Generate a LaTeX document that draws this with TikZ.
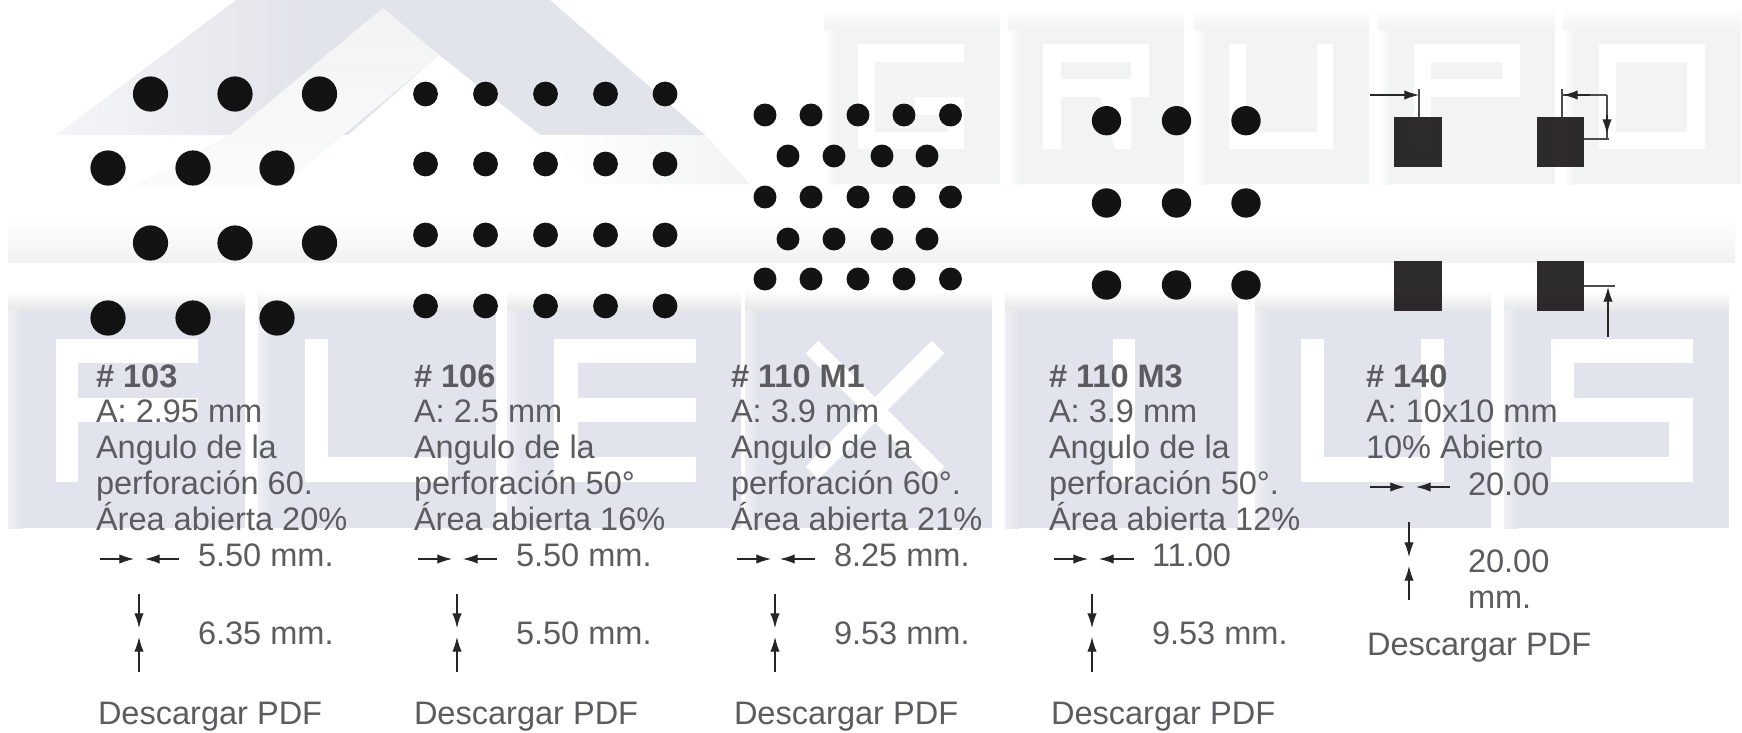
\documentclass[tikz,border=0pt]{standalone}
\usepackage{fontspec}
\setmainfont{Liberation Sans}
\usetikzlibrary{arrows.meta}
\definecolor{logoblue}{HTML}{E2E4EB}
\definecolor{blockblue}{HTML}{E1E4EC}
\definecolor{blockpale}{HTML}{F2F3F3}
\definecolor{ink}{HTML}{5A5C60}
\definecolor{dotink}{HTML}{0C0C0C}
\definecolor{squareink}{HTML}{1F1B1C}
\tikzset{
  x=.75pt, y=-.75pt,
  lbl/.style={anchor=base west, inner sep=0pt, outer sep=0pt, text=ink, font=\fontsize{24.4}{24.4}\selectfont},
  lblb/.style={lbl, font=\fontsize{24.4}{24.4}\selectfont\bfseries},
  dimline/.style={draw=black!85, line width=.9pt, -{Latex[length=11pt,width=7pt]}},
  thinline/.style={draw=black!70, line width=.9pt},
  holefill/.style={fill=dotink, opacity=.97},
  squarefill/.style={fill=squareink, opacity=.93},
  white letter/.style={fill=white}
}
% bottom block: x1 x2
\newcommand\lowblock[2]{%
  \fill[blockblue] (#1,310) rectangle (#2,528);
  \shade[top color=white!80!blockpale, bottom color=blockpale!95!black] (#1,292) rectangle (#2,310);
  \shade[left color=blockblue!55!white, right color=blockblue] (#1,310) rectangle ({#1+14},528);
}
% top block: x1 x2
\newcommand\highblock[2]{%
  \fill[blockpale] (#1,30) rectangle (#2,184);
  \shade[top color=white, bottom color=blockpale] (#1,8) rectangle (#2,30);
  \shade[left color=white, right color=blockpale] (#1,30) rectangle ({#1+12},184);
}
\newcommand\wbar[4]{\fill[white letter] (#1,#2) rectangle (#3,#4);}
\newcommand\gbar[4]{\fill[blockpale] (#1,#2) rectangle (#3,#4);}
\newcommand\dimarrow[3]{\coordinate (#1s) at #2; \coordinate (#1e) at #3; \draw[dimline] (#1s) -- (#1e);}
\newcommand\dimrule[3]{\coordinate (#1s) at #2; \coordinate (#1e) at #3; \draw[thinline] (#1s) -- (#1e);}
\begin{document}
\begin{tikzpicture}
\useasboundingbox (0,0) rectangle (1742,732);
\fill[white] (0,0) rectangle (1742,732);

% ---------- watermark: logo roof
\shade[left color=logoblue!35!white, right color=logoblue]
  (56,135) -- (236,0) -- (300,0) -- (300,135) -- cycle;
\fill[logoblue] (299,0) -- (550,0) -- (705,135) -- (299,135) -- cycle;
\shade[top color=blockpale, bottom color=white!60!blockpale]
  (383,8) -- (439,55) -- (283,185) -- (133,185) -- (230,135) -- cycle;
\fill[white] (439,55) -- (540,135) -- (589,183) -- (294,183) -- cycle;
\shade[left color=white, right color=blockpale]
  (540,135) -- (705,135) -- (750,184) -- (589,184) -- cycle;

% ---------- watermark: light strip
\shade[top color=white, bottom color=black!5.5] (8,220) rectangle (1735,262);

% ---------- watermark: GRUPO
\highblock{824}{1000}
\highblock{1008}{1184}
\highblock{1194}{1369}
\highblock{1378}{1555}
\highblock{1563}{1741}
% G
\wbar{858}{44}{964}{62}\wbar{858}{44}{875}{149}\wbar{858}{132}{964}{149}\wbar{948}{97}{964}{149}\wbar{915}{97}{964}{115}
% R
\wbar{1043}{44}{1149}{62}\wbar{1043}{44}{1061}{149}\wbar{1131}{44}{1149}{97}\wbar{1043}{79}{1149}{97}
\fill[white letter] (1100,97) -- (1131,97) -- (1131,149) -- (1115,149) -- cycle;
% U
\wbar{1229}{44}{1246}{149}\wbar{1317}{44}{1333}{149}\wbar{1229}{132}{1333}{149}
% P
\wbar{1414}{44}{1520}{62}\wbar{1414}{44}{1431}{149}\wbar{1502}{44}{1520}{97}\wbar{1414}{79}{1520}{97}
% O
\wbar{1599}{44}{1705}{149}\gbar{1616}{62}{1687}{132}

% ---------- watermark: FLEXIUS
\lowblock{8}{245}
\lowblock{258}{496}
\lowblock{507}{741}
\lowblock{745}{992}
\lowblock{1005}{1238}
\lowblock{1255}{1491}
\lowblock{1504}{1729}
% F
\wbar{56}{339}{198}{363}\wbar{56}{339}{78}{482}\wbar{56}{398}{198}{422}
% L
\wbar{305}{339}{328}{482}\wbar{305}{457}{448}{482}
% E
\wbar{554}{339}{578}{482}\wbar{554}{339}{696}{363}\wbar{554}{398}{696}{422}\wbar{554}{457}{696}{482}
% X
\draw[white, line width=13.5pt] (812,347) -- (938,473);
\draw[white, line width=13.5pt] (938,347) -- (812,473);
% I
\wbar{1113}{339}{1135}{482}
% U
\wbar{1301}{339}{1324}{482}\wbar{1421}{339}{1444}{482}\wbar{1301}{457}{1444}{482}
% S
\wbar{1551}{339}{1693}{363}\wbar{1551}{339}{1574}{422}\wbar{1551}{398}{1693}{422}\wbar{1669}{398}{1693}{482}\wbar{1551}{457}{1693}{482}

% ---------- hole patterns
% 103
\foreach \y in {94,243} \foreach \x in {150.5,235,319.5} \fill[holefill] (\x,\y) circle[radius=13.2pt];
\foreach \y in {168,318} \foreach \x in {108,193,277} \fill[holefill] (\x,\y) circle[radius=13.2pt];
% 106
\foreach \y in {94,164,235,306} \foreach \x in {425.5,485.5,545.5,605.5,665} \fill[holefill] (\x,\y) circle[radius=9.3pt];
% 110 M1
\foreach \y in {115,197,279} \foreach \x in {765,811,858,904,950.5} \fill[holefill] (\x,\y) circle[radius=8.6pt];
\foreach \y in {156,239} \foreach \x in {788,834,882,927} \fill[holefill] (\x,\y) circle[radius=8.6pt];
% 110 M3
\foreach \y in {120.7,203,285} \foreach \x in {1106.5,1176.5,1246} \fill[holefill] (\x,\y) circle[radius=11pt];
% 140
\fill[squarefill] (1394,117) rectangle (1442,167);
\fill[squarefill] (1537,117) rectangle (1584,167);
\fill[squarefill] (1394,261) rectangle (1442,311);
\fill[squarefill] (1537,261) rectangle (1584,311);

% pitch marks of 140
\dimrule{pa}{(1419,89)}{(1419,117)}
\dimarrow{pb}{(1370,95)}{(1419,95)}
\dimrule{pc}{(1562,89)}{(1562,117)}
\dimrule{pd}{(1562,95)}{(1607,95)}
\dimarrow{pe}{(1590,95)}{(1563,95)}
\dimrule{pf}{(1607,95)}{(1607,139)}
\dimarrow{pg}{(1607,115)}{(1607,134)}
\dimrule{ph}{(1584,139)}{(1609,139)}
\dimrule{pi}{(1584,286)}{(1615,286)}
\dimarrow{pj}{(1608,337)}{(1608,287)}

% ---------- captions, column 1
\node[lblb] (n1a) at (96,387) {\# 103};
\node[lbl] (n1b) at (96,422) {A: 2.95 mm};
\node[lbl] (n1c) at (96,458) {Angulo de la};
\node[lbl] (n1d) at (96,494) {perforación 60.};
\node[lbl] (n1e) at (96,530) {Área abierta 20\%};
\node[lbl] (n1f) at (198,566) {5.50 mm.};
\node[lbl] (n1g) at (198,644) {6.35 mm.};
\node[lbl] (n1h) at (98,724) {Descargar PDF};
% column 2
\node[lblb] (n2a) at (414,387) {\# 106};
\node[lbl] (n2b) at (414,422) {A: 2.5 mm};
\node[lbl] (n2c) at (414,458) {Angulo de la};
\node[lbl] (n2d) at (414,494) {perforación 50°};
\node[lbl] (n2e) at (414,530) {Área abierta 16\%};
\node[lbl] (n2f) at (516,566) {5.50 mm.};
\node[lbl] (n2g) at (516,644) {5.50 mm.};
\node[lbl] (n2h) at (414,724) {Descargar PDF};
% column 3
\node[lblb] (n3a) at (731,387) {\# 110 M1};
\node[lbl] (n3b) at (731,422) {A: 3.9 mm};
\node[lbl] (n3c) at (731,458) {Angulo de la};
\node[lbl] (n3d) at (731,494) {perforación 60°.};
\node[lbl] (n3e) at (731,530) {Área abierta 21\%};
\node[lbl] (n3f) at (834,566) {8.25 mm.};
\node[lbl] (n3g) at (834,644) {9.53 mm.};
\node[lbl] (n3h) at (734,724) {Descargar PDF};
% column 4
\node[lblb] (n4a) at (1049,387) {\# 110 M3};
\node[lbl] (n4b) at (1049,422) {A: 3.9 mm};
\node[lbl] (n4c) at (1049,458) {Angulo de la};
\node[lbl] (n4d) at (1049,494) {perforación 50°.};
\node[lbl] (n4e) at (1049,530) {Área abierta 12\%};
\node[lbl] (n4f) at (1152,566) {11.00};
\node[lbl] (n4g) at (1152,644) {9.53 mm.};
\node[lbl] (n4h) at (1051,724) {Descargar PDF};
% column 5
\node[lblb] (n5a) at (1366,387) {\# 140};
\node[lbl] (n5b) at (1366,422) {A: 10x10 mm};
\node[lbl] (n5c) at (1366,458) {10\% Abierto};
\node[lbl] (n5d) at (1468,495) {20.00};
\node[lbl] (n5e) at (1468,572) {20.00};
\node[lbl] (n5f) at (1468,608) {mm.};
\node[lbl] (n5g) at (1367,655) {Descargar PDF};

% ---------- pitch arrows beside captions
\dimarrow{a1}{(100,559)}{(134,559)}
\dimarrow{a2}{(179,559)}{(145,559)}
\dimarrow{a3}{(139,594)}{(139,628)}
\dimarrow{a4}{(139,672)}{(139,637)}
\dimarrow{b1}{(418,559)}{(452,559)}
\dimarrow{b2}{(497,559)}{(463,559)}
\dimarrow{b3}{(457,594)}{(457,628)}
\dimarrow{b4}{(457,672)}{(457,637)}
\dimarrow{c1}{(737,559)}{(771,559)}
\dimarrow{c2}{(815,559)}{(780,559)}
\dimarrow{c3}{(775,594)}{(775,628)}
\dimarrow{c4}{(775,672)}{(775,637)}
\dimarrow{d1}{(1054,559)}{(1088,559)}
\dimarrow{d2}{(1134,559)}{(1099,559)}
\dimarrow{d3}{(1092,594)}{(1092,628)}
\dimarrow{d4}{(1092,672)}{(1092,637)}
\dimarrow{e1}{(1370,487)}{(1405,487)}
\dimarrow{e2}{(1450,487)}{(1416,487)}
\dimarrow{e3}{(1409,522)}{(1409,557)}
\dimarrow{e4}{(1409,600)}{(1409,566)}
\end{tikzpicture}
\end{document}
